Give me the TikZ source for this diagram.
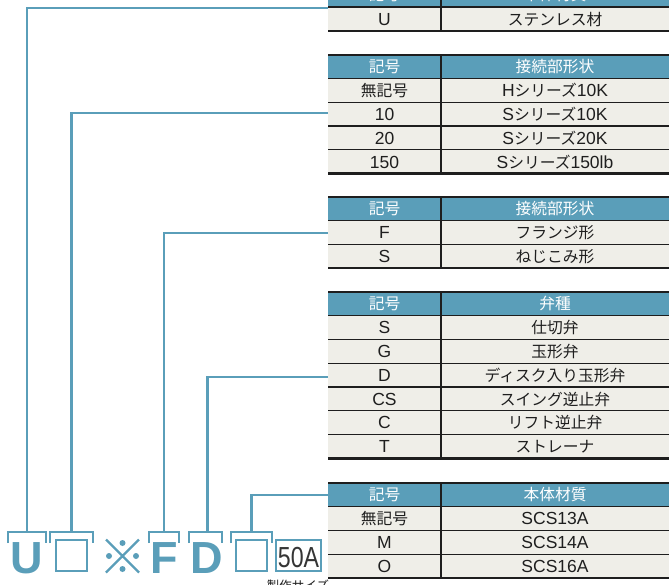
\documentclass[tikz,border=0pt]{standalone}
\usepackage{fontspec}
\setmainfont{Liberation Sans}
\newfontfamily\jpfont[Scale=0.9]{Noto Sans CJK JP}
\newfontfamily\jpsmall{Noto Sans CJK JP}
\newcommand\jp[1]{{\jpfont #1}}
\definecolor{tealA}{HTML}{5A9EB9}
\definecolor{rowbg}{HTML}{EFEEE8}
\definecolor{ink}{HTML}{1E1E1E}
\tikzset{
  leader/.style={draw=tealA,line width=2.4pt},
  bracket/.style={draw=tealA,line width=2.6pt},
  cell/.style={anchor=base,inner sep=0pt,font=\fontsize{17.5}{19}\selectfont,text=ink},
  headcell/.style={cell,text=white},
  thickline/.style={draw=ink,line width=2.4pt},
  thinline/.style={draw=ink,line width=1.2pt},
  bigletter/.style={anchor=base,inner sep=0pt,font=\fontsize{45}{45}\selectfont\bfseries,text=tealA},
  sqbox/.style={draw=tealA,line width=2pt,fill=white,minimum width=31pt,minimum height=31pt,inner sep=0pt},
}
% #1 id, #2 top y, #3 header right text, #4 rows, #5 number of rows
\newcommand\ptable[5]{%
  \fill[tealA] (328,#2) rectangle (669,#2+23.5);
  \node[headcell] (#1hc) at (384.5,#2+17.5) {\jp{記号}};
  \node[headcell] (#1hd) at (555,#2+17.5) {\jp{#3}};
  \foreach \c/\d [count=\i] in {#4}{%
    \pgfmathsetmacro\ya{#2+23.5+(\i-1)*23.8}
    \pgfmathsetmacro\yb{\ya+23.8}
    \fill[rowbg] (328,\ya) rectangle (669,\yb);
    \draw[thinline] (328,\ya) -- (669,\ya);
    \node[cell] (#1c\i) at (384.5,\ya+18.2) {\c};
    \node[cell] (#1d\i) at (555,\ya+18.2) {\d};
  }
  \draw[thickline] (328,#2) -- (669,#2);
  \draw[thickline] (328,#2+23.5+#5*23.8) -- (669,#2+23.5+#5*23.8);
  \draw[thinline] (441,#2) -- (441,#2+23.5+#5*23.8);
}
\begin{document}
\begin{tikzpicture}[x=1pt,y=-1pt]
\useasboundingbox (0,0) rectangle (669,585);
\clip (0,0) rectangle (669,585);
\fill[white] (0,0) rectangle (669,585);

% tables
\ptable{ta}{-16.5}{本体材質}{U/\jp{ステンレス材}}{1}
\ptable{tb}{55}{接続部形状}{\jp{無記号}/H\jp{シリーズ}10K,10/S\jp{シリーズ}10K,20/S\jp{シリーズ}20K,150/S\jp{シリーズ}150lb}{4}
\ptable{tc}{197}{接続部形状}{F/\jp{フランジ形},S/\jp{ねじこみ形}}{2}
\ptable{td}{292}{弁種}{S/\jp{仕切弁},G/\jp{玉形弁},D/\jp{ディスク入り玉形弁},CS/\jp{スイング逆止弁},C/\jp{リフト逆止弁},T/\jp{ストレーナ}}{6}
\ptable{te}{483}{本体材質}{\jp{無記号}/SCS13A,M/SCS14A,O/SCS16A}{3}

% table anchor points for leaders
\coordinate (ea) at (328,8);
\coordinate (eb) at (328,113);
\coordinate (ec) at (328,233);
\coordinate (ed) at (328,377);
\coordinate (ee) at (328,495);

% code characters
\node[bigletter] (U) at (27,573) {U};
\node[sqbox] (b1) at (71.5,555.5) {};
\node[bigletter] (F) at (164.5,573) {F};
\node[bigletter] (D) at (207,573) {D};
\node[sqbox] (b2) at (251.5,555.5) {};
\node[draw=tealA,line width=2pt,minimum width=45pt,minimum height=31pt,inner sep=0pt] (size) at (298.5,555.5) {};
\node[anchor=base,inner sep=0pt,xscale=0.8,transform shape,font=\fontsize{29}{29}\selectfont,text=ink!90] (sizet) at (298.5,567) {50A};
\node[anchor=center,inner sep=0pt,font=\jpsmall\fontsize{12.5}{13}\selectfont,text=ink] (sizel) at (298,586) {製作サイズ};

% reference mark
\coordinate (kome) at (122.5,556);
\draw[draw=tealA,line width=2.2pt] (106,539.5) -- (139,572.5) (139,539.5) -- (106,572.5);
\fill[tealA] (122.5,543) circle (3) (122.5,569) circle (3) (109,556) circle (3) (136,556) circle (3);

% brackets
\coordinate (sa) at (27,532);
\coordinate (sb) at (71.5,532);
\coordinate (sc) at (164,532);
\coordinate (sd) at (207.5,532);
\coordinate (se) at (251.5,532);
\draw[bracket] (8,543) -- (8,532) -- (46,532) -- (46,543);
\draw[bracket] (50,543) -- (50,532) -- (93,532) -- (93,543);
\draw[bracket] (149,543) -- (149,532) -- (179,532) -- (179,543);
\draw[bracket] (189,543) -- (189,532) -- (222,532) -- (222,543);
\draw[bracket] (231,543) -- (231,532) -- (272,532) -- (272,543);

% leaders
\draw[leader] (sa) |- (ea);
\draw[leader] (sb) |- (eb);
\draw[leader] (sc) |- (ec);
\draw[leader] (sd) |- (ed);
\draw[leader] (se) |- (ee);
\end{tikzpicture}
\end{document}
